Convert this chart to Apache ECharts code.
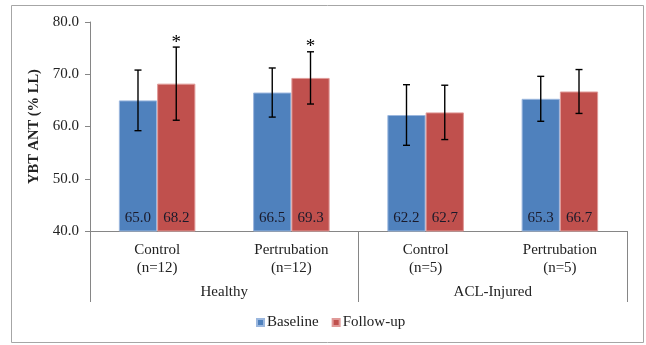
<!DOCTYPE html>
<html><head><meta charset="utf-8">
<script src="https://cdn.jsdelivr.net/npm/echarts@6/dist/echarts.min.js"></script>
<style>html,body{margin:0;padding:0;background:#fff}#c{width:646px;height:345px}</style>
</head><body><div id="c"></div>
<script>
const categories = ['Control\n(n=12)', 'Pertrubation\n(n=12)', 'Control\n(n=5)', 'Pertrubation\n(n=5)'];
const groups = ['Healthy', 'ACL-Injured'];
const baseline = [65.0, 66.5, 62.2, 65.3];
const followup = [68.2, 69.3, 62.7, 66.7];
const baselineSD = [5.8, 4.7, 5.8, 4.3];
const followupSD = [7.0, 5.0, 5.2, 4.2];
const baselineSig = ['', '', '', ''];
const followupSig = ['*', '*', '', ''];
const yTicks = [40, 50, 60, 70, 80];

const FONT = '"Liberation Serif", "Times New Roman", serif';
const GAP = 0.43;
const chart = echarts.init(document.getElementById('c'));

function errSeries(name, means, sds, sigs, side) {
  return {
    type: 'custom', name: name + ' err', xAxisIndex: 0, yAxisIndex: 0, z: 5,
    data: means.map((m, i) => [i, m, sds[i]]),
    encode: { x: 0, y: 1 },
    renderItem: function (params, api) {
      const i = api.value(0), m = api.value(1), s = api.value(2);
      const bw = api.size([1, 0])[0];
      const off = side * bw * (1 - GAP) / 4;
      const t = api.coord([i, m + s]), b = api.coord([i, m - s]);
      const x = t[0] + off, cap = 3.5;
      const st = { stroke: '#000', lineWidth: 1.4 };
      const ch = [
        { type: 'line', shape: { x1: x, y1: t[1], x2: x, y2: b[1] }, style: st },
        { type: 'line', shape: { x1: x - cap, y1: t[1], x2: x + cap, y2: t[1] }, style: st },
        { type: 'line', shape: { x1: x - cap, y1: b[1], x2: x + cap, y2: b[1] }, style: st }
      ];
      const sg = sigs[params.dataIndex];
      if (sg) ch.push({ type: 'text', style: { text: sg, x: x, y: t[1] + 5, align: 'center', verticalAlign: 'bottom', font: '19px ' + FONT, fill: '#000' } });
      return { type: 'group', children: ch };
    }
  };
}

chart.setOption({
  animation: false,
  graphic: [{ type: 'rect', shape: { x: 11.5, y: 5.5, width: 632, height: 337 }, style: { fill: 'none', stroke: '#a6a6a6', lineWidth: 1 } }],
  grid: { left: 90, right: 19, top: 22, bottom: 114 },
  legend: {
    bottom: 15, left: 256, padding: 0, itemWidth: 7, itemHeight: 7, itemGap: 13, icon: 'rect',
    textStyle: { fontFamily: FONT, fontSize: 15, color: '#222', padding: [0, 0, 0, -2] },
    data: ['Baseline', 'Follow-up']
  },
  xAxis: [
    { type: 'category', data: categories, position: 'bottom',
      axisLine: { lineStyle: { color: '#868686' } },
      axisTick: { length: 44, lineStyle: { color: '#868686' } },
      axisLabel: { margin: 10, fontFamily: FONT, fontSize: 15, color: '#222', lineHeight: 18 } },
    { type: 'category', data: groups, position: 'bottom',
      axisLine: { show: false },
      axisTick: { show: true, length: 71, lineStyle: { color: '#868686' } },
      axisLabel: { margin: 54, fontFamily: FONT, fontSize: 15, color: '#222' } }
  ],
  yAxis: {
    type: 'value', min: 40, max: 80, interval: 10,
    name: 'YBT ANT (% LL)', nameLocation: 'middle', nameGap: 42, nameRotate: 90,
    nameTextStyle: { fontFamily: FONT, fontSize: 14.5, fontWeight: 'bold', color: '#222' },
    axisLine: { show: true, lineStyle: { color: '#868686' } },
    axisTick: { show: true, length: 5, lineStyle: { color: '#868686' } },
    splitLine: { show: false },
    axisLabel: { fontFamily: FONT, fontSize: 15, color: '#222', margin: 11,
      formatter: v => yTicks.includes(v) ? v.toFixed(1) : '' }
  },
  series: [
    { type: 'bar', name: 'Baseline', data: baseline, barGap: '0%', barCategoryGap: (GAP * 100) + '%',
      itemStyle: { color: '#4F81BD', borderColor: '#9bb7de', borderWidth: 1 },
      label: { show: true, position: 'insideBottom', distance: 6, fontFamily: FONT, fontSize: 15, color: '#1a1a2a', formatter: p => p.value.toFixed(1) } },
    { type: 'bar', name: 'Follow-up', data: followup, barGap: '0%', barCategoryGap: (GAP * 100) + '%',
      itemStyle: { color: '#C0504D', borderColor: '#e09a98', borderWidth: 1 },
      label: { show: true, position: 'insideBottom', distance: 6, fontFamily: FONT, fontSize: 15, color: '#1a1a2a', formatter: p => p.value.toFixed(1) } },
    errSeries('Baseline', baseline, baselineSD, baselineSig, -1),
    errSeries('Follow-up', followup, followupSD, followupSig, 1)
  ]
});
</script></body></html>
